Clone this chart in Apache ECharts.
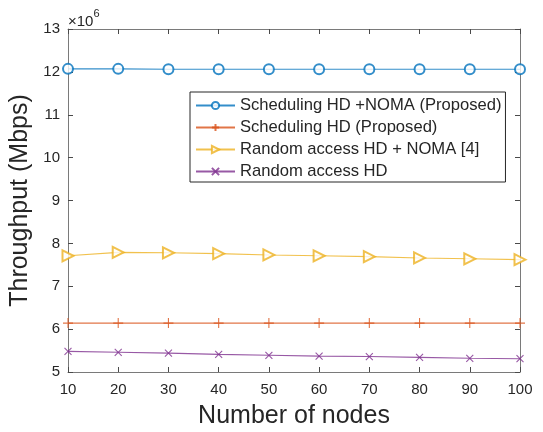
<!DOCTYPE html>
<html><head><meta charset="utf-8">
<script src="https://cdn.jsdelivr.net/npm/echarts@6/dist/echarts.min.js"></script>
<style>html,body{margin:0;padding:0;background:#fff}#c{width:543px;height:432px}</style>
</head><body><div id="c"></div>
<script>
const nodes = [10,20,30,40,50,60,70,80,90,100];
const schedNoma = [12.07,12.07,12.06,12.06,12.06,12.06,12.06,12.06,12.06,12.06];
const schedHD = [6.14,6.14,6.14,6.14,6.14,6.14,6.14,6.14,6.14,6.14];
const randNoma = [7.71,7.79,7.78,7.76,7.73,7.71,7.69,7.66,7.64,7.62];
const randHD = [5.48,5.46,5.44,5.41,5.39,5.37,5.36,5.34,5.32,5.31];
const names = ['Scheduling HD +NOMA (Proposed)','Scheduling HD (Proposed)','Random access HD + NOMA [4]','Random access HD'];
const colors = ['#0072BD','#D95319','#EDB120','#7E2F8E'];
const font = 'Liberation Sans, Arial, sans-serif';
const pair = a => nodes.map((x,i)=>[x,a[i]]);
const chart = echarts.init(document.getElementById('c'));
const axisCommon = {
  axisLine:{show:true,lineStyle:{color:'#7a7a7a',width:1}},
  axisTick:{show:true,inside:true,length:5,lineStyle:{color:'#4a4a4a'}},
  splitLine:{show:false}
};
function mk(i, data, symbol, extra){
  return Object.assign({
    name:names[i], type:'line', data:pair(data), symbol:symbol, symbolSize:10,
    lineStyle:{color:colors[i],width:1.1,opacity:0.8},
    itemStyle:{color:colors[i],borderColor:colors[i],borderWidth:1.1,opacity:0.8},
    emphasis:{disabled:true}, animation:false, z:3
  }, extra||{});
}
chart.setOption({
  animation:false,
  grid:{left:68,right:23,top:29,bottom:60,containLabel:false,outerBoundsMode:'none'},
  xAxis:[
    Object.assign({type:'value',min:10,max:100,interval:10,position:'bottom',
      name:'Number of nodes',nameLocation:'middle',nameGap:32,
      nameTextStyle:{fontFamily:font,fontSize:25,color:'#262626'},
      axisLabel:{fontFamily:font,fontSize:15,color:'#262626',margin:10}},axisCommon),
    Object.assign({type:'value',min:10,max:100,interval:10,position:'top',axisLabel:{show:false}},axisCommon)
  ],
  yAxis:[
    Object.assign({type:'value',min:5,max:13,interval:1,position:'left',
      name:'Throughput (Mbps)',nameLocation:'middle',nameGap:30,
      nameTextStyle:{fontFamily:font,fontSize:25,color:'#262626'},
      axisLabel:{fontFamily:font,fontSize:15,color:'#262626',margin:8}},axisCommon),
    Object.assign({type:'value',min:5,max:13,interval:1,position:'right',axisLabel:{show:false}},axisCommon)
  ],
  legend:{
    orient:'vertical', left:190, top:92, padding:[5,4,2,5], itemGap:5,
    itemWidth:39, itemHeight:9, borderColor:'#262626', borderWidth:1, backgroundColor:'#fff',
    textStyle:{fontFamily:font,fontSize:16.6,color:'#262626'},
    data:names
  },
  graphic:[{type:'text',left:68,top:8,style:{
    text:'{a|×10}{b|6}', rich:{a:{fontFamily:font,fontSize:15,fill:'#262626',padding:[6,0,0,0]},b:{fontFamily:font,fontSize:11,fill:'#262626',verticalAlign:'top'}}
  }}],
  series:[
    mk(0, schedNoma, 'emptyCircle'),
    mk(1, schedHD, 'path://M5,0L5,10M0,5L10,5', {symbolSize:10}),
    mk(2, randNoma, 'emptyTriangle', {symbolRotate:-90, symbolSize:11}),
    mk(3, randHD, 'path://M0,0L10,10M10,0L0,10', {symbolSize:7})
  ]
});
</script></body></html>
